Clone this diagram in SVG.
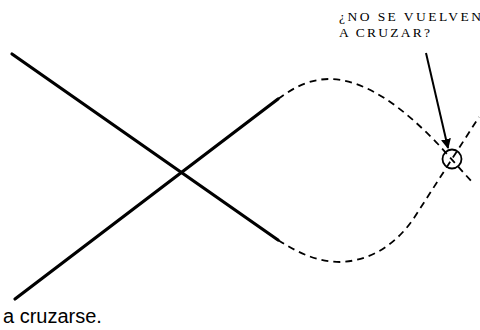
<svg xmlns="http://www.w3.org/2000/svg" width="480" height="330" viewBox="0 0 480 330">
<style>
.solid{stroke:#000;stroke-width:3.2;fill:none;stroke-linecap:round}
.dash{stroke:#000;stroke-width:1.8;fill:none;stroke-dasharray:7 5}
.lbl{font-family:"Liberation Serif",serif;font-size:13.5px;fill:#000}
.cap{font-family:"Liberation Sans",Arial,sans-serif;font-size:20px;fill:#000}
</style>
<defs>
<marker id="ah" viewBox="0 0 10 10" refX="9" refY="5" markerWidth="5" markerHeight="5" orient="auto" markerUnits="strokeWidth">
<path d="M0,0 L10,5 L0,10 z" fill="#000"/>
</marker>
</defs>
<g id="connectors">
<line class="solid" x1="12" y1="54" x2="278" y2="240"/>
<line class="solid" x1="15" y1="299" x2="278" y2="99"/>
<path class="dash" d="M278,99 C298,84 314,79 330,79 C368,80 405,110 437,143 L472,182"/>
<path class="dash" d="M278,240 C298,253 318,262 340,262 C372,261 397,243 414,218 L479,117"/>
<line x1="426" y1="53" x2="448" y2="148" stroke="#000" stroke-width="2" marker-end="url(#ah)"/>
</g>
<g id="node-circle">
<circle cx="452" cy="159" r="9.5" fill="none" stroke="#000" stroke-width="1.8"/>
</g>
<g id="label">
<text class="lbl" x="339" y="21" textLength="142" lengthAdjust="spacing">¿NO SE VUELVEN</text>
<text class="lbl" x="339" y="37" textLength="91" lengthAdjust="spacing">A CRUZAR?</text>
</g>
<g id="caption">
<text class="cap" x="3" y="323">a cruzarse.</text>
</g>
</svg>
